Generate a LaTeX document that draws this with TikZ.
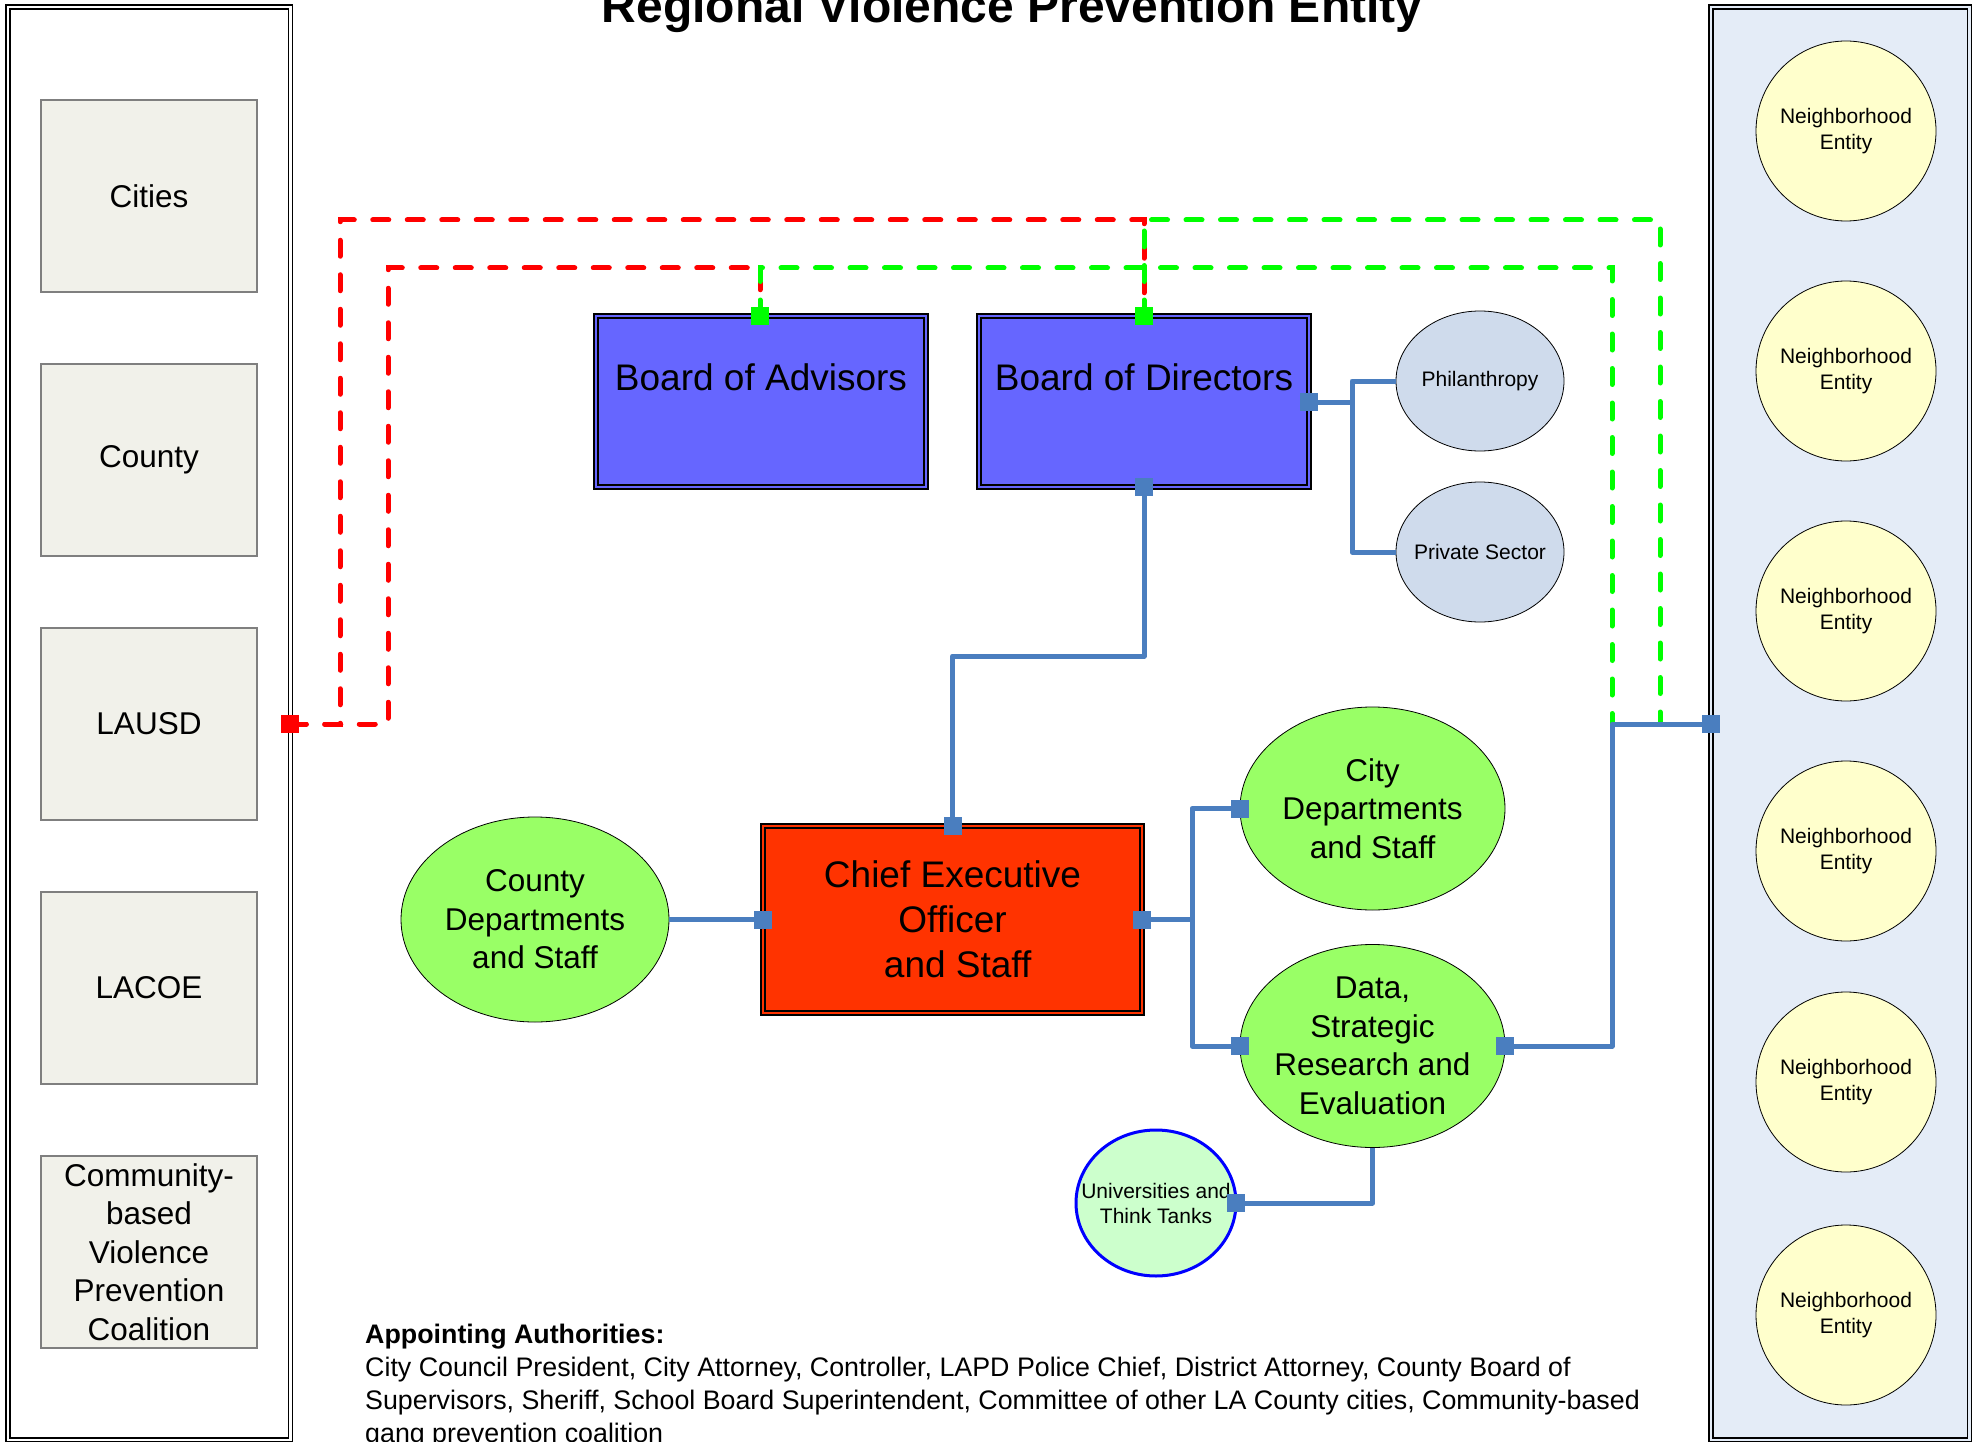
\documentclass[tikz,border=0pt]{standalone}
\usepackage{fontspec}
\setmainfont{Liberation Sans}
\usetikzlibrary{shapes.geometric}
\definecolor{boxgray}{HTML}{F1F1EA}
\definecolor{boxedge}{HTML}{7F7F7F}
\definecolor{boardblue}{HTML}{6666FF}
\definecolor{ceored}{HTML}{FF3300}
\definecolor{deptgreen}{HTML}{99FF66}
\definecolor{univgreen}{HTML}{CCFFCC}
\definecolor{univedge}{HTML}{0000FF}
\definecolor{sponsorblue}{HTML}{CFDBEC}
\definecolor{nbyellow}{HTML}{FFFFCC}
\definecolor{panelblue}{HTML}{E4ECF7}
\definecolor{linkblue}{HTML}{4A7EBF}
\definecolor{dashred}{HTML}{FF0000}
\definecolor{dashgreen}{HTML}{00FF00}
\pgfdeclarelayer{under}
\pgfsetlayers{under,main}
\begin{document}
\begin{tikzpicture}[x=1pt,y=-1pt,
  panel/.style={draw=black,line width=1.5pt,double distance=2.5pt,double=#1,fill=#1,inner sep=0pt,outer sep=0pt,minimum height=1433pt},
  srcbox/.style={draw=boxedge,line width=1.2pt,fill=boxgray,minimum width=216pt,minimum height=192pt,inner sep=0pt,outer sep=0pt,align=center,font=\fontsize{31.5}{38.5}\selectfont},
  board/.style={draw=black,line width=1.3pt,double distance=2.8pt,double=#1,fill=#1,inner sep=0pt,outer sep=0pt,align=center,font=\fontsize{37}{45}\selectfont},
  ovalbase/.style={ellipse,draw=black,line width=0.8pt,inner xsep=-40pt,inner ysep=-30pt,outer sep=0pt,align=center},
  deptoval/.style={ovalbase,fill=deptgreen,minimum width=265pt,minimum height=203pt,font=\fontsize{31.5}{38.5}\selectfont},
  sponsoroval/.style={ovalbase,fill=sponsorblue,minimum width=168pt,minimum height=140pt,font=\fontsize{21}{25}\selectfont},
  nboval/.style={ovalbase,fill=nbyellow,minimum width=180pt,minimum height=180pt,font=\fontsize{21}{26}\selectfont},
  univoval/.style={ovalbase,draw=univedge,line width=3pt,fill=univgreen,minimum width=160pt,minimum height=146pt,font=\fontsize{21}{25}\selectfont},
  bport/.style={fill=linkblue,minimum size=18pt,inner sep=0pt,outer sep=0pt},
  gport/.style={fill=dashgreen,minimum size=18pt,inner sep=0pt,outer sep=0pt},
  rport/.style={fill=dashred,minimum size=18pt,inner sep=0pt,outer sep=0pt},
  link/.style={draw=linkblue,line width=5pt,line join=round},
  reddash/.style={draw=dashred,line width=5pt,dash pattern=on 16pt off 18.5pt,line cap=round},
  greendash/.style={draw=dashgreen,line width=5pt,dash pattern=on 16pt off 18.5pt,line cap=round}
]
\clip (0,0) rectangle (1982,1442);
\fill[white] (0,0) rectangle (1982,1442);

% title
\node[font=\bfseries\fontsize{48}{58}\selectfont,anchor=base,inner sep=0pt] (title) at (1012,23) {Regional Violence Prevention Entity};

% side panels
\node[panel=white,minimum width=282.5pt] (leftpanel) at (149,723.4) {};
\node[panel=panelblue,minimum width=258.5pt] (rightpanel) at (1840,723.4) {};

% appointing sources
\node[srcbox] (cities) at (149,196) {Cities};
\node[srcbox] (county) at (149,460) {County};
\node[srcbox] (lausd) at (149,724) {LAUSD};
\node[srcbox] (lacoe) at (149,988) {LACOE};
\node[srcbox] (coalition) at (149,1252) {Community-\\based\\Violence\\Prevention\\Coalition};

% neighborhood entities
\node[nboval] (nb1) at (1846,131) {Neighborhood\\Entity};
\node[nboval] (nb2) at (1846,371) {Neighborhood\\Entity};
\node[nboval] (nb3) at (1846,611) {Neighborhood\\Entity};
\node[nboval] (nb4) at (1846,851) {Neighborhood\\Entity};
\node[nboval] (nb5) at (1846,1082) {Neighborhood\\Entity};
\node[nboval] (nb6) at (1846,1315) {Neighborhood\\Entity};

% boards
\node[board=boardblue,minimum width=330pt,minimum height=171pt,text height=0pt,text depth=23pt] (advisors) at (761,401.5) {Board of Advisors};
\node[board=boardblue,minimum width=330pt,minimum height=171pt,text height=0pt,text depth=23pt] (directors) at (1144,401.5) {Board of Directors};

% sponsors
\node[sponsoroval] (phil) at (1480,381) {Philanthropy};
\node[sponsoroval] (private) at (1480,552) {Private Sector};

% CEO
\node[board=ceored,minimum width=379pt,minimum height=187pt] (ceo) at (952.5,919.5) {Chief Executive\\Officer\\~and Staff};

% departments
\node[deptoval,minimum width=268pt,minimum height=205pt] (countydept) at (535,919.5) {County\\Departments\\and Staff};
\node[deptoval] (citydept) at (1372.5,808.5) {City\\Departments\\and Staff};
\node[deptoval] (data) at (1372.5,1046) {Data,\\Strategic\\Research and\\Evaluation};
\node[univoval] (univ) at (1156,1203) {Universities and\\Think Tanks};

% ports hidden half behind ovals
\begin{pgfonlayer}{under}
\node[bport] (philport) at (phil.west) {};
\node[bport] (privport) at (private.west) {};
\node[bport] (countyport) at (countydept.east) {};
\node[bport] (dataSport) at (data.south) {};
\end{pgfonlayer}

% ports on top
\node[bport] (bodEport) at (directors.east |- 0,402) {};
\node[bport] (bodSport) at (directors.south) {};
\node[bport] (ceoNport) at (ceo.north) {};
\node[bport] (ceoWport) at (ceo.west) {};
\node[bport] (ceoEport) at (ceo.east) {};
\node[bport] (cityport) at (citydept.west) {};
\node[bport] (dataWport) at (data.west) {};
\node[bport] (dataEport) at (data.east) {};
\node[bport] (univport) at (univ.east) {};

% bend points
\coordinate (bodbranch) at (1352,402);
\coordinate (ceobend) at (952.5,656);
\coordinate (ceobranch) at (1192,919.5);
\coordinate (redA) at (340,220);
\coordinate (redB) at (388,268);
\coordinate (greenA) at (1660,220);
\coordinate (greenB) at (1612,268);
\coordinate (dataturn) at (1612,724);

% blue connectors
\draw[link] (bodEport.center) -- (bodbranch) |- (philport.center);
\draw[link] (bodbranch) |- (privport.center);
\draw[link] (bodSport.center) |- (ceobend) -- (ceoNport.center);
\draw[link] (countyport.center) -- (ceoWport.center);
\draw[link] (ceoEport.center) -- (ceobranch) |- (cityport.center);
\draw[link] (ceobranch) |- (dataWport.center);
\draw[link] (dataSport.center) |- (univport.center);

% ports for appointment lines
\node[rport] (lausdport) at (leftpanel.east |- lausd) {};
\coordinate (nbpoint) at (rightpanel.west |- lausd);

% appointment lines
\draw[reddash] (lausdport.center) -| (redA) -| (directors.north);
\draw[reddash] (lausdport.center) -| (redB) -| (advisors.north -| 760,0);
\draw[greendash] (directors.north) |- (greenA) |- (nbpoint);
\draw[greendash] (advisors.north -| 760,0) |- (greenB) |- (nbpoint);
\node[gport] (boaport) at (advisors.north -| 760,0) {};
\node[gport] (bodport) at (directors.north) {};
\draw[link] (dataEport.center) -| (dataturn) -- (nbpoint);
\node[bport] (nbport) at (nbpoint) {};

% note
\node[anchor=north west,align=left,inner sep=0pt,font=\fontsize{26.8}{33}\selectfont] (authorities) at (365,1324) {\textbf{Appointing Authorities:}\\City Council President, City Attorney, Controller, LAPD Police Chief, District Attorney, County Board of\\Supervisors, Sheriff, School Board Superintendent, Committee of other LA County cities, Community-based\\gang prevention coalition};
\end{tikzpicture}
\end{document}
